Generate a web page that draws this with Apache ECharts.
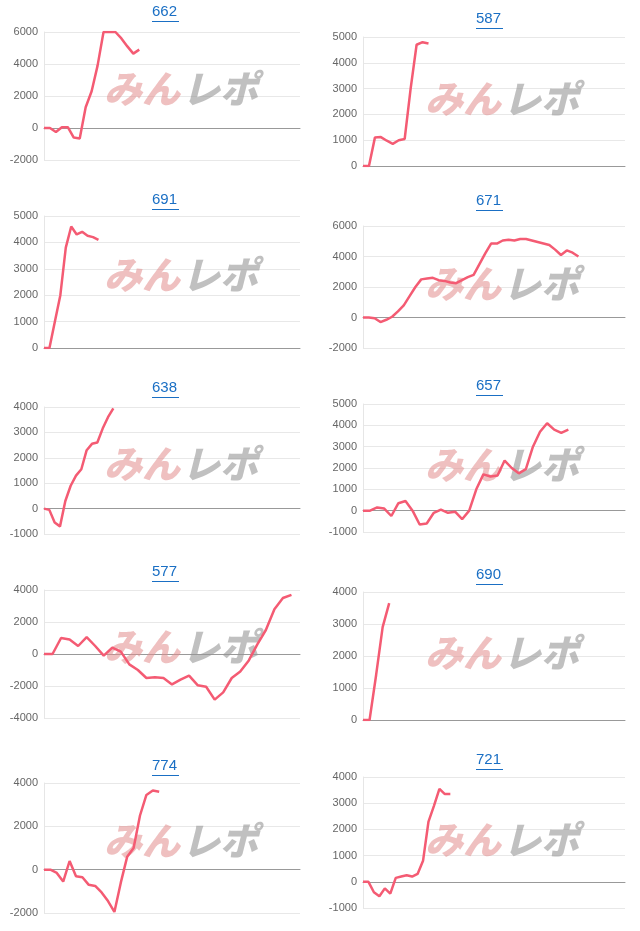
<!DOCTYPE html>
<html><head><meta charset="utf-8">
<script src="https://cdn.jsdelivr.net/npm/echarts@6/dist/echarts.min.js"></script>
<style>html,body{margin:0;padding:0;background:#fff}#c{width:640px;height:931px}</style>
</head><body><div id="c"></div>
<script>
const titles = ['662','587','691','671','638','657','577','690','774','721'];
const s662 = [0,0,-250,50,50,-600,-650,1300,2300,3900,6000,6000,6000,5600,5100,4650,4900];
const s587 = [0,0,1100,1120,980,860,1000,1050,3000,4700,4800,4750];
const s691 = [0,0,1000,2000,3800,4600,4300,4400,4250,4200,4100];
const s671 = [0,0,-50,-300,-150,50,400,800,1400,2000,2500,2550,2600,2450,2400,2300,2250,2450,2650,2800,3500,4200,4850,4850,5050,5100,5050,5150,5150,5050,4950,4850,4750,4450,4100,4400,4250,4000];
const s638 = [0,-50,-550,-700,300,900,1300,1550,2300,2550,2600,3150,3600,3950];
const s657 = [0,0,150,100,-250,350,450,0,-650,-600,-100,50,-100,-50,-400,0,1000,1700,1600,1650,2350,2000,1750,1950,3000,3700,4100,3800,3650,3800];
const s577 = [0,0,1000,900,500,1050,500,-100,400,150,-650,-1000,-1500,-1450,-1500,-1900,-1600,-1350,-1950,-2050,-2850,-2400,-1500,-1100,-400,600,1500,2800,3500,3700];
const s690 = [0,0,1400,2900,3650];
const s774 = [0,0,-150,-550,400,-300,-350,-700,-750,-1050,-1450,-1950,-600,600,1000,2500,3450,3650,3600];
const s721 = [0,0,-400,-550,-250,-450,150,200,250,200,300,800,2300,2900,3550,3350,3350];
const seriesData = [s662,s587,s691,s671,s638,s657,s577,s690,s774,s721];
const spans = [0.37,0.25,0.215,0.82,0.27,0.79,0.96,0.10,0.45,0.33];
const yMin = [-2000,0,0,-2000,-1000,-1000,-4000,0,-2000,-1000];
const yMax = [6000,5000,5000,6000,4000,5000,4000,4000,4000,4000];
const yStep = [2000,1000,1000,2000,1000,1000,2000,1000,2000,1000];

const tops = [32,37,216,226,407,404,590,592,783,777];
const bots = [160,166,348,348,534,532,718,720,913,908];
const titleY = [12,19,200,201,388,386,572,575,766,760];

const grid=[],xAxis=[],yAxis=[],series=[],graphic=[];
for(let i=0;i<10;i++){
  const left = i%2===0;
  const gl = left?44:363, gw = left?256:262;
  grid.push({left:gl,width:gw,top:tops[i],height:bots[i]-tops[i]});
  const n = seriesData[i].length;
  const cnt = Math.round((n-1)/spans[i])+1;
  xAxis.push({gridIndex:i,type:'category',boundaryGap:false,data:Array.from({length:cnt},(_,k)=>k),
    axisLabel:{show:false},axisTick:{show:false},axisLine:{onZero:true,lineStyle:{color:'#999'}}});
  yAxis.push({gridIndex:i,type:'value',min:yMin[i],max:yMax[i],interval:yStep[i],
    axisLine:{show:true,lineStyle:{color:'#e6e6e6'}},axisTick:{show:false},
    axisLabel:{color:'#666',fontSize:11,fontFamily:'Arial, Liberation Sans',margin:6,formatter:v=>String(v)},
    splitLine:{lineStyle:{color:'#e8e8e8'}}});
  series.push({type:'line',xAxisIndex:i,yAxisIndex:i,data:seriesData[i],showSymbol:false,
    lineStyle:{color:'#f45b73',width:2.5},itemStyle:{color:'#f45b73'},z:5});
  const cx = left?166:490;
  graphic.push({type:'text',left:cx-14,top:titleY[i]-8,style:{text:titles[i],fill:'#1a6fc4',font:'15px Arial, Liberation Sans'}});
  graphic.push({type:'rect',shape:{x:cx-14,y:titleY[i]+9,width:27,height:1},style:{fill:'#1a6fc4'}});
  const wy = (tops[i]+bots[i])/2 - 26 + (i%2?4:0);
  const wx = left?104:425;
  graphic.push({type:'text',left:wx,top:wy,z:1,style:{text:'みん',fill:'rgba(225,140,140,0.55)',font:'italic 900 38px "Noto Sans CJK JP"'}});
  graphic.push({type:'text',left:wx+78,top:wy,z:1,style:{text:'レポ',fill:'rgba(150,150,150,0.6)',font:'italic 900 38px "Noto Sans CJK JP"'}});
}
const chart = echarts.init(document.getElementById('c'));
chart.setOption({animation:false,grid,xAxis,yAxis,series,graphic});
</script></body></html>
